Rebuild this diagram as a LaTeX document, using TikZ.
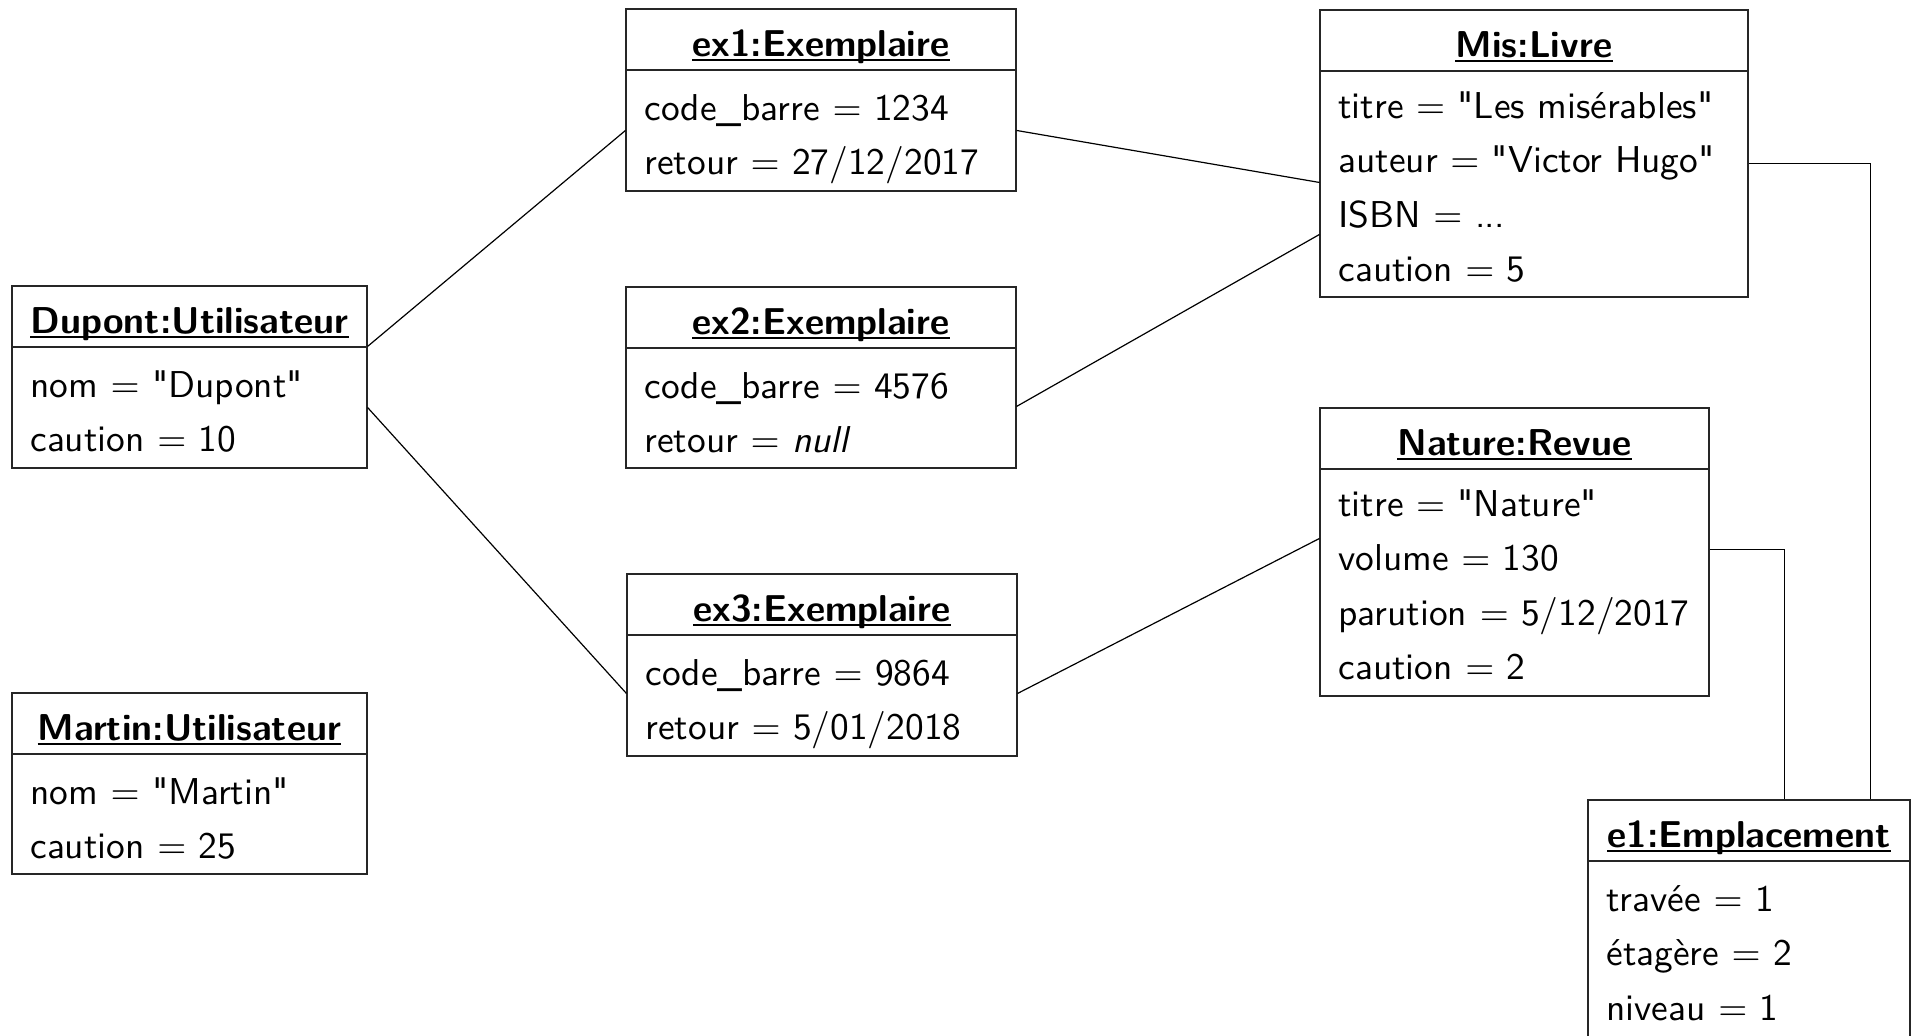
\documentclass[tikz,border=0pt]{standalone}
\usetikzlibrary{fit,calc}

\tikzset{
  objbox/.style={draw=black!85, line width=0.55pt, inner sep=0pt},
  objline/.style={draw=black!85, line width=0.55pt},
  objtitle/.style={anchor=base, inner sep=0pt, font=\objfont\bfseries},
  objattr/.style={anchor=base west, inner sep=0pt, font=\objfont},
  link/.style={draw=black, line width=0.6pt},
}
\newcommand\objfont{\sffamily\fontsize{10}{12}\selectfont}
\newcommand\objscale[1]{\scalebox{1.87}{#1}}
\newcommand\tightdots{.\kern-0.02em.\kern-0.02em.}
\newcommand\q{\textquotedbl}

% [#1] first baseline offset, #2 name, #3 left, #4 top, #5 right, #6 bottom, #7 title, #8 attribute rows
\newcommand\umlobject[8][111]{%
  \node[objbox, fit={(#3,#4) (#5,#6)}] (#2) {};
  \draw[objline] (#3,#4+61) -- (#5,#4+61);
  \node[objtitle] (#2-t) at ({(#3+#5)/2},#4+47) {\objscale{#7}};
  \draw[line width=0.8pt] ([yshift=-2.1pt]#2-t.base west) -- ([yshift=-2.1pt]#2-t.base east);
  \foreach \r [count=\i] in {#8} {
    \node[objattr] (#2-a\i) at (#3+18,{#4+#1+54.6*(\i-1)}) {\objscale{\r}};
  }%
}

\begin{document}
\begin{tikzpicture}[x=0.5pt, y=-0.5pt]
  \clip (0,0) rectangle (1917,1035);
  \fill[white] (0,0) rectangle (1917,1035);

  \umlobject{dupont}{12}{286}{367}{468}{Dupont:Utilisateur}%
    {{nom $=$ \q Dupont\q},{caution $=$ 10}}
  \umlobject{martin}{12}{693}{367}{874}{Martin:Utilisateur}%
    {{nom $=$ \q Martin\q},{caution $=$ 25}}
  \umlobject{ex1}{626}{9}{1016}{191}{ex1:Exemplaire}%
    {{code\_barre $=$ 1234},{retour $=$ 27/12/2017}}
  \umlobject{ex2}{626}{287}{1016}{468}{ex2:Exemplaire}%
    {{code\_barre $=$ 4576},{retour $=$ \textit{null}}}
  \umlobject{ex3}{627}{574}{1017}{756}{ex3:Exemplaire}%
    {{code\_barre $=$ 9864},{retour $=$ 5/01/2018}}
  \umlobject[108]{mis}{1320}{10}{1748}{297}{Mis:Livre}%
    {{titre $=$ \q Les misérables\q},{auteur $=$ \q Victor Hugo\q},{ISBN $=$ \tightdots},{caution $=$ 5}}
  \umlobject[108]{nature}{1320}{408}{1709}{696}{Nature:Revue}%
    {{titre $=$ \q Nature\q},{volume $=$ 130},{parution $=$ 5/12/2017},{caution $=$ 2}}
  \umlobject{e1}{1588}{800}{1910}{1040}{e1:Emplacement}%
    {{travée $=$ 1},{étagère $=$ 2},{niveau $=$ 1}}

  % links between objects
  \draw[link] ($(dupont.north east)+(0,61)$) -- ($(ex1.north west)+(0,122)$);
  \draw[link] ($(dupont.north east)+(0,122)$) -- ($(ex3.north west)+(0,120)$);
  \draw[link] ($(ex1.north east)+(0,122)$) -- ($(mis.north west)+(0,173)$);
  \draw[link] ($(ex2.north east)+(0,120)$) -- ($(mis.north west)+(0,225)$);
  \draw[link] ($(ex3.north east)+(0,120)$) -- ($(nature.north west)+(0,131)$);
  \draw[link] ($(mis.north east)+(0,154)$) -| ($(e1.north west)+(283,0)$);
  \draw[link] ($(nature.north east)+(0,142)$) -| ($(e1.north west)+(197,0)$);
\end{tikzpicture}
\end{document}
